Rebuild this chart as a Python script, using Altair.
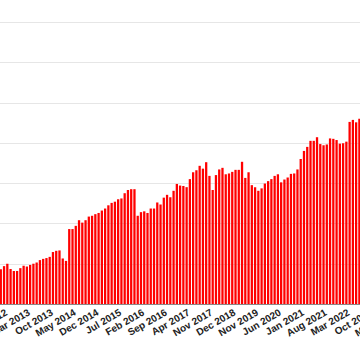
import altair as alt
import pandas as pd

MONTHS = ["Jan", "Feb", "Mar", "Apr", "May", "Jun", "Jul", "Aug", "Sep", "Oct", "Nov", "Dec"]


def month_span(y0, m0, y1, m1):
    out = []
    y, m = y0, m0
    while (y, m) <= (y1, m1):
        out.append(f"{MONTHS[m - 1]} {y}")
        m += 1
        if m > 12:
            m, y = 1, y + 1
    return out


# category axis (one bar per reported month; some months absent in 2018-2019)
categories = (
    month_span(2012, 7, 2017, 11)
    + ["Jan 2018", "Mar 2018", "May 2018", "Jul 2018", "Sep 2018", "Nov 2018", "Dec 2018",
       "Jan 2019", "Mar 2019", "May 2019", "Jul 2019", "Aug 2019", "Oct 2019"]
    + month_span(2019, 11, 2023, 5)
)

# bar values (visible part of the series)
values = [
    8.6, 9.4, 10.0, 8.7, 8.2, 8.2, 8.9, 9.5, 9.3, 9.7,
    10.0, 10.3, 10.9, 11.2, 11.4, 11.7, 12.9, 13.2, 13.3, 11.3,
    10.7, 18.6, 18.6, 19.4, 20.8, 20.2, 20.8, 21.7, 21.9, 22.3,
    22.6, 23.2, 23.7, 24.5, 25.1, 25.4, 26.0, 26.2, 27.5, 28.3,
    28.5, 28.5, 21.9, 22.8, 23.0, 22.6, 23.7, 23.7, 25.2, 24.7,
    26.4, 27.1, 26.5, 28.1, 29.8, 29.4, 29.3, 29.0, 31.0, 32.7,
    33.2, 34.3, 33.6, 35.2, 31.8, 28.3, 32.0, 33.4, 33.8, 32.2,
    32.4, 32.8, 33.3, 33.3, 35.3, 31.3, 32.7, 29.5, 29.0, 28.1,
    28.7, 29.9, 30.5, 31.0, 31.8, 32.2, 30.2, 30.9, 31.4, 32.3,
    32.4, 33.4, 36.0, 38.0, 39.0, 40.5, 40.5, 41.4, 39.7, 39.4,
    39.6, 41.1, 41.0, 40.7, 39.8, 39.9, 40.3, 45.2, 45.7, 45.1,
    46.0,
]

tick_labels = categories[1::7]

df = pd.DataFrame({"month": categories[: len(values)], "value": values})

step = 3.26
r0 = 0.8 - step / 2
r1 = r0 + step * len(categories)

chart = (
    alt.Chart(df)
    .mark_bar(color="#ff0000")
    .encode(
        x=alt.X(
            "month:N",
            sort=categories,
            scale=alt.Scale(domain=categories, range=[r0, r1], paddingInner=0.3, paddingOuter=0.15),
            axis=alt.Axis(
                values=tick_labels,
                title=None,
                labelAngle=-30,
                labelAlign="right",
                labelBaseline="top",
                labelFont="Liberation Sans",
                labelFontSize=10,
                labelFontWeight="bold",
                labelColor="#222222",
                labelOverlap=False,
                labelPadding=3,
                ticks=False,
                domainColor="#888888",
                domainWidth=1,
                grid=False,
            ),
        ),
        y=alt.Y(
            "value:Q",
            scale=alt.Scale(domain=[0, 70], nice=False),
            axis=alt.Axis(
                values=[0, 10, 20, 30, 40, 50, 60, 70],
                labels=False,
                ticks=False,
                domain=False,
                title=None,
                gridColor="#e6e6e6",
                gridWidth=1,
            ),
        ),
    )
    .properties(
        width=360,
        height=282,
        autosize=alt.AutoSizeParams(type="none"),
        padding={"left": 0, "top": 22, "right": 0, "bottom": 46},
    )
    .configure_view(stroke=None)
)

chart.save("out.html", embed_options={"renderer": "svg", "actions": False})
